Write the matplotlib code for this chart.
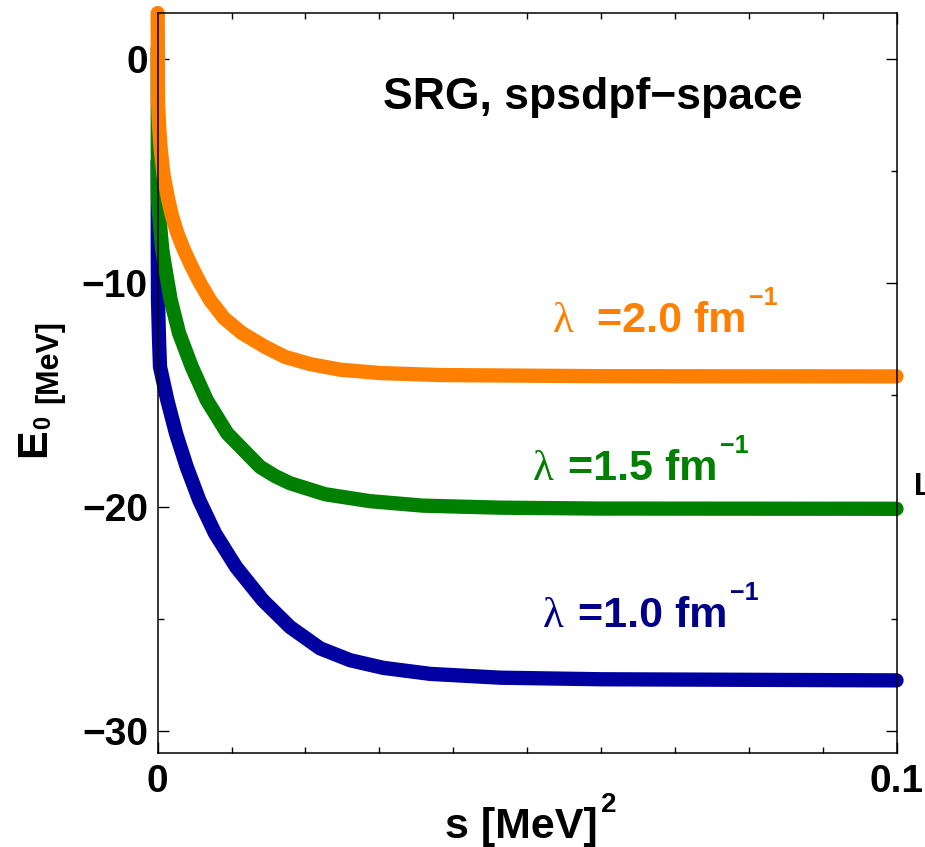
import matplotlib
matplotlib.use("Agg")
import matplotlib.pyplot as plt
from matplotlib.ticker import MultipleLocator

plt.rcParams["font.family"] = ["Liberation Sans", "DejaVu Sans"]
plt.rcParams["font.weight"] = "bold"

# flow parameter s and ground state energy E0
s_20 = [0, 0.00004, 0.00018, 0.00041, 0.00079, 0.00144, 0.00194, 0.00265,
        0.00356, 0.0046, 0.00573, 0.00708, 0.00898, 0.01138, 0.01453,
        0.01724, 0.02063, 0.02469, 0.03011, 0.03824, 0.06, 0.1]
e_20 = [2.05, -1.83, -2.95, -4.06, -5.18, -6.30, -7.01, -7.77,
        -8.53, -9.27, -10.0, -10.76, -11.57, -12.23, -12.85,
        -13.30, -13.62, -13.87, -14.02, -14.11, -14.16, -14.17]

s_15 = [0, 0.00001, 0.00004, 0.00041, 0.00062, 0.00099, 0.00176, 0.00289,
        0.00461, 0.00664, 0.00943, 0.01386, 0.01589, 0.01792, 0.02266,
        0.02875, 0.03593, 0.04636, 0.06, 0.1]
e_15 = [0.49, -4.06, -6.30, -7.77, -8.53, -9.28, -10.76, -12.24,
        -13.74, -15.23, -16.72, -18.21, -18.62, -18.94, -19.43,
        -19.74, -19.94, -20.03, -20.07, -20.08]

s_10 = [0, 0.00001, 0.00004, 0.00018, 0.00031, 0.0013, 0.00248, 0.00393,
        0.00563, 0.00776, 0.01061, 0.01422, 0.01792, 0.02198, 0.02605,
        0.03051, 0.03688, 0.04636, 0.06, 0.1]
e_10 = [-4.56, -8.53, -10.76, -12.55, -13.74, -15.23, -16.72, -18.21,
        -19.70, -21.18, -22.68, -24.16, -25.36, -26.31, -26.84,
        -27.18, -27.45, -27.62, -27.69, -27.74]

ORANGE = "#ff8000"
GREEN = "#008000"
BLUE = "#0000a0"
NAVY = "#000088"

W, H = 925, 847


def fpos(x, y):
    # pixel position (from top-left) -> figure fraction
    return x / W, 1 - y / H


fig = plt.figure(figsize=(W / 100, H / 100), dpi=100)
ax = fig.add_axes([0.1705, 0.1113, 0.7987, 0.873])
renderer = fig.canvas.get_renderer()


def right_px(t):
    return t.get_window_extent(renderer).x1


lw = 10.3
for s, e, c in [(s_10, e_10, BLUE), (s_15, e_15, GREEN), (s_20, e_20, ORANGE)]:
    ax.plot(s, e, color=c, linewidth=lw, solid_capstyle="round",
            solid_joinstyle="round", clip_on=False)

ax.set_xlim(0, 0.1)
ax.set_ylim(-30.97, 2.04)

ax.set_xticks([0, 0.1])
ax.set_xticklabels(["0", "0.1"])
ax.xaxis.set_minor_locator(MultipleLocator(0.01))
ax.set_yticks([0, -10, -20, -30])
ax.yaxis.set_minor_locator(MultipleLocator(5))

ax.tick_params(which="both", direction="in", top=True, right=True,
               width=1.0, colors="black", labelsize=28)
ax.tick_params(axis="y", which="major", length=8, pad=7)
ax.tick_params(axis="y", which="minor", length=4.3)
ax.tick_params(axis="x", which="major", length=8, pad=8)
ax.tick_params(axis="x", which="minor", length=4)
for lab in ax.get_xticklabels() + ax.get_yticklabels():
    lab.set_fontweight("bold")
for sp in ax.spines.values():
    sp.set_linewidth(1.1)

# title inside the frame
fig.text(*fpos(383, 109), "SRG, spsdpf\u2212space", fontsize=32,
         fontweight="bold", ha="left", va="baseline")

# curve labels: serif lambda, bold value, superscript
labels = [
    ((553, 332), (597, 332), "=2.0 fm", ORANGE),
    ((533, 480), (568, 480), "=1.5 fm", GREEN),
    ((543, 627), (578, 627), "=1.0 fm", NAVY),
]
for lam_xy, val_xy, txt, c in labels:
    fig.text(*fpos(*lam_xy), "\u03bb", fontsize=31, family="Liberation Serif",
             fontweight="normal", color=c, ha="left", va="baseline")
    t = fig.text(*fpos(*val_xy), txt, fontsize=31, fontweight="bold",
                 color=c, ha="left", va="baseline")
    x_end = right_px(t)
    fig.text(*fpos(x_end + 3, val_xy[1] - 27), "\u22121", fontsize=18,
             fontweight="bold", color=c, ha="left", va="baseline")

# x axis label
t = fig.text(*fpos(445, 838), "s [MeV]", fontsize=31, fontweight="bold",
             ha="left", va="baseline")
fig.text(*fpos(right_px(t) + 3, 812), "2", fontsize=20, fontweight="bold",
         ha="left", va="baseline")

# y axis label (rotated pieces)
fig.text(*fpos(45, 457), "E", fontsize=31, fontweight="bold", rotation=90,
         rotation_mode="anchor", ha="left", va="baseline")
fig.text(*fpos(50, 429), "0", fontsize=17, fontweight="bold", rotation=90,
         rotation_mode="anchor", ha="left", va="baseline")
fig.text(*fpos(57, 403), "[MeV]", fontsize=22, fontweight="bold", rotation=90,
         rotation_mode="anchor", ha="left", va="baseline")

# cut-off letter from a neighbouring panel at the right edge
fig.text(*fpos(914, 495), "L", fontsize=22, fontweight="bold",
         ha="left", va="baseline")

fig.savefig("out.png", dpi=100)
